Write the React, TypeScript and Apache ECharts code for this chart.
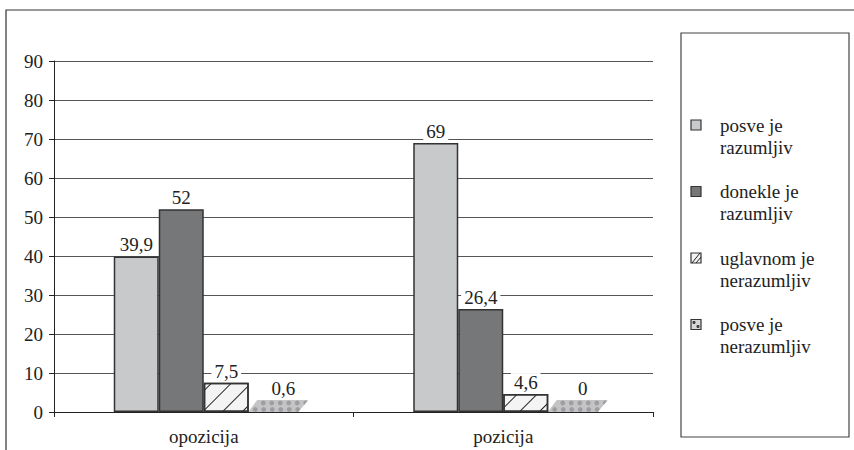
import React, { useEffect, useRef } from "react";
import * as echarts from "echarts";

const categories = ["opozicija", "pozicija"];
const seriesNames = ["posve je razumljiv", "donekle je razumljiv", "uglavnom je nerazumljiv", "posve je nerazumljiv"];
const legendLines = [
  ["posve je", "razumljiv"],
  ["donekle je", "razumljiv"],
  ["uglavnom je", "nerazumljiv"],
  ["posve je", "nerazumljiv"],
];
const posveRazumljiv = [39.9, 69];
const donekleRazumljiv = [52, 26.4];
const uglavnomNerazumljiv = [7.5, 4.6];
const posveNerazumljiv = [0.6, 0];
const yTicks = [0, 10, 20, 30, 40, 50, 60, 70, 80, 90];

const FONT = "Liberation Serif";
const fmt = (v: number) => String(v).replace(".", ",");

export default function App() {
  const ref = useRef<HTMLDivElement>(null);
  useEffect(() => {
    if (!ref.current) return;
    const chart = echarts.init(ref.current, null, { renderer: "svg" });
    const BW = 45;
    const labelCfg = {
      show: true,
      position: "top",
      distance: 2,
      fontFamily: FONT,
      fontSize: 19,
      color: "#222",
      backgroundColor: "#fff",
      padding: [0, 3, 0, 3],
      formatter: (p: any) => fmt(p.value),
    };
    const legendItems: any[] = [];
    const markerStyles = [
      { fill: "#c8c9cb", stroke: "#333", lineWidth: 1.2 },
      { fill: "#767779", stroke: "#333", lineWidth: 1.2 },
      { fill: "#f3f3f3", stroke: "#333", lineWidth: 1.2 },
      { fill: "#d8d8d8", stroke: "#333", lineWidth: 1.2 },
    ];
    legendLines.forEach((lines, i) => {
      const y = 125 + i * 66.5;
      legendItems.push({
        type: "rect",
        shape: { x: 691, y: y - 5, width: 10, height: 10 },
        style: markerStyles[i],
      });
      if (i === 2) {
        legendItems.push({ type: "line", shape: { x1: 692, y1: y + 5, x2: 700, y2: y - 5 }, style: { stroke: "#222", lineWidth: 1 } });
        legendItems.push({ type: "line", shape: { x1: 696, y1: y + 5, x2: 701, y2: y - 1 }, style: { stroke: "#222", lineWidth: 1 } });
      }
      if (i === 3) {
        legendItems.push({ type: "circle", shape: { cx: 694, cy: y - 2, r: 1.6 }, style: { fill: "#444" } });
        legendItems.push({ type: "circle", shape: { cx: 698, cy: y + 2, r: 1.6 }, style: { fill: "#444" } });
      }
      lines.forEach((t, j) => {
        legendItems.push({
          type: "text",
          x: 720,
          y: y + j * 22,
          style: { text: t, fontFamily: FONT, fontSize: 19, fill: "#222", verticalAlign: "middle", align: "left" },
        });
      });
    });

    chart.setOption({
      animation: false,
      backgroundColor: "#fff",
      textStyle: { fontFamily: FONT },
      grid: { left: 54, right: 201, top: 61, bottom: 38 },
      xAxis: {
        type: "category",
        data: categories,
        axisLine: { lineStyle: { color: "#222", width: 1 } },
        axisTick: { show: true, length: 5, lineStyle: { color: "#222" } },
        axisLabel: { fontFamily: FONT, fontSize: 19, color: "#222", margin: 15 },
      },
      yAxis: {
        type: "value",
        min: 0,
        max: 90,
        interval: 10,
        axisLine: { show: true, lineStyle: { color: "#222", width: 1 } },
        axisTick: { show: true, length: 5, lineStyle: { color: "#222" } },
        axisLabel: {
          fontFamily: FONT,
          fontSize: 19,
          color: "#222",
          margin: 11,
          formatter: (v: number) => (yTicks.includes(v) ? String(v) : ""),
        },
        splitLine: { lineStyle: { color: "#555", width: 1 } },
      },
      series: [
        {
          name: seriesNames[0],
          type: "bar",
          barWidth: BW,
          barGap: "0%",
          data: posveRazumljiv,
          itemStyle: { color: "#c8c9cb", borderColor: "#333", borderWidth: 1.5 },
          label: labelCfg,
        },
        {
          name: seriesNames[1],
          type: "bar",
          barWidth: BW,
          barGap: "0%",
          data: donekleRazumljiv,
          itemStyle: { color: "#767779", borderColor: "#333", borderWidth: 1.5 },
          label: labelCfg,
        },
        {
          name: seriesNames[2],
          type: "bar",
          barWidth: BW,
          barGap: "0%",
          data: uglavnomNerazumljiv,
          itemStyle: {
            color: "#f4f4f4",
            borderColor: "#333",
            borderWidth: 1.5,
            decal: {
              symbol: "rect",
              symbolSize: 1,
              dashArrayX: [1, 0],
              dashArrayY: [1, 13],
              rotation: -Math.PI / 4,
              color: "#222",
            },
          },
          label: labelCfg,
        },
        {
          name: seriesNames[3],
          type: "bar",
          barWidth: BW,
          barGap: "0%",
          data: posveNerazumljiv,
          itemStyle: { color: "rgba(0,0,0,0)" },
          label: { show: false },
        },
        {
          name: seriesNames[3] + " floor",
          type: "custom",
          data: posveNerazumljiv.map((v, i) => [i, v]),
          encode: { x: 0, y: 1 },
          renderItem: (params: any, api: any) => {
            const idx = api.value(0);
            const v = api.value(1);
            const base = api.coord([idx, 0]);
            const cx = base[0] + 1.5 * BW;
            const y0 = base[1];
            const pts = [
              [cx - 23, y0],
              [cx + 27, y0],
              [cx + 37, y0 - 12],
              [cx - 14, y0 - 12],
            ];
            const dots: any[] = [];
            for (let k = 0; k < 6; k++) {
              dots.push({ type: "circle", shape: { cx: cx - 8 + k * 8.5, cy: y0 - 9, r: 2.4 }, style: { fill: "#9e9ea0" } });
              dots.push({ type: "circle", shape: { cx: cx - 16 + k * 8.5, cy: y0 - 2.5, r: 2.4 }, style: { fill: "#9e9ea0" } });
            }
            return {
              type: "group",
              children: [
                { type: "polygon", shape: { points: pts }, style: { fill: "#c4c4c6", stroke: "none" } },
                {
                  type: "group",
                  clipPath: { type: "polygon", shape: { points: pts } },
                  children: dots,
                },
                {
                  type: "text",
                  x: cx + 12,
                  y: y0 - 24,
                  style: {
                    text: fmt(v),
                    fontFamily: FONT,
                    fontSize: 19,
                    fill: "#222",
                    align: "center",
                    verticalAlign: "middle",
                  },
                },
              ],
            };
          },
        },
      ],
      graphic: [
        {
          type: "rect",
          shape: { x: 6, y: 10, width: 900, height: 500 },
          style: { fill: "none", stroke: "#333", lineWidth: 1.2 },
          silent: true,
        },
        {
          type: "rect",
          shape: { x: 681, y: 33, width: 168, height: 404 },
          style: { fill: "#fff", stroke: "#444", lineWidth: 1.2 },
          silent: true,
        },
        ...legendItems,
      ],
    });
    return () => chart.dispose();
  }, []);
  return (
    <div
      ref={ref}
      style={{ position: "fixed", left: 0, top: 0, width: 854, height: 450, background: "#fff" }}
    />
  );
}
